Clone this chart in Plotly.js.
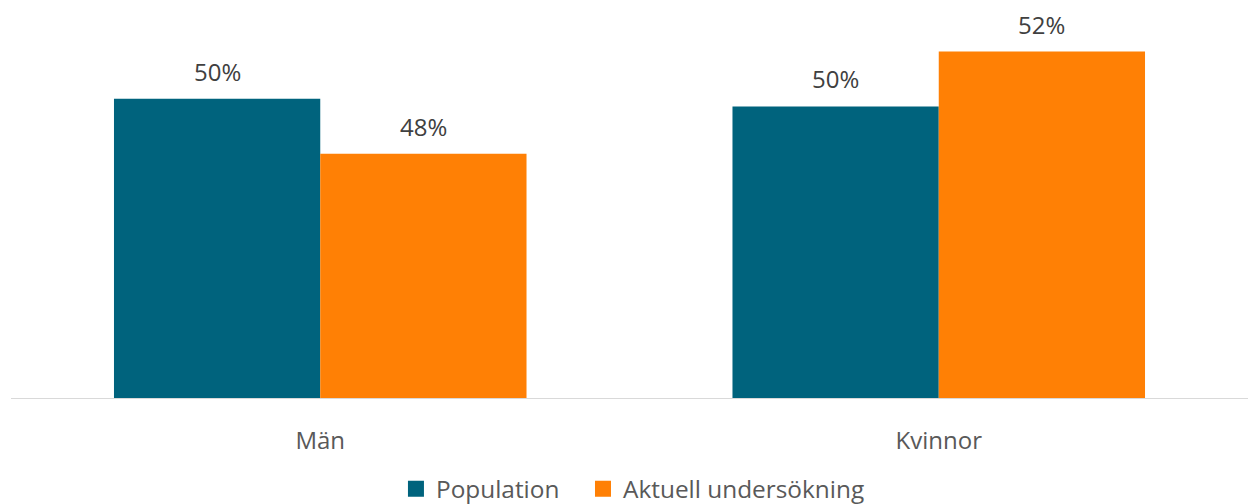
<!DOCTYPE html>
<html>
<head>
<meta charset="utf-8">
<script src="https://cdn.plot.ly/plotly-3.0.1.min.js"></script>
<style>html,body{margin:0;padding:0;background:#fff;}#chart{width:1248px;height:504px;}</style>
</head>
<body>
<div id="chart"></div>
<script>
const categories = ["Män", "Kvinnor"];
const seriesNames = ["Population", "Aktuell undersökning"];
const population = [50.13, 49.87];
const aktuell = [48.27, 51.73];
const colors = ["#00637d", "#ff8005"];

const font = "'Open Sans', 'Noto Sans', sans-serif";
const series = [population, aktuell];
const bargap = 0.333;
const barW = (1 - bargap) / series.length;
const legendIds = ["legend", "legend2"];

const traces = series.map((vals, i) => ({
  type: "bar",
  name: seriesNames[i],
  x: categories,
  y: vals,
  marker: {color: colors[i]},
  showlegend: false,
  hoverinfo: "skip"
}));
// legend entries with square markers
series.forEach((vals, i) => traces.push({
  type: "scatter", mode: "markers", name: seriesNames[i],
  x: [null], y: [null],
  marker: {symbol: "square", size: 16, color: colors[i], line: {width: 0}},
  showlegend: true, legend: legendIds[i], hoverinfo: "skip"
}));

const annotations = [];
series.forEach((vals, i) => vals.forEach((v, j) => annotations.push({
  xref: "x", yref: "y",
  x: j - (1 - bargap) / 2 + barW * (i + 0.5),
  y: v,
  text: Math.round(v) + "%",
  showarrow: false, yanchor: "bottom", yshift: 9,
  font: {family: font, size: 24, color: "#404040"}
})));

const legendBase = {
  orientation: "h", xref: "paper", xanchor: "left",
  yref: "container", y: 0.03, yanchor: "middle",
  font: {family: font, size: 24.4, color: "#595959"},
  itemwidth: 30
};

const layout = {
  width: 1248, height: 504,
  margin: {l: 11, r: 0, t: 14, b: 105.5},
  paper_bgcolor: "#fff", plot_bgcolor: "#fff",
  barmode: "group",
  bargap: bargap,
  bargroupgap: 0,
  font: {family: font, size: 24, color: "#595959"},
  xaxis: {
    type: "category",
    showline: true, linecolor: "#d9d9d9", linewidth: 1,
    ticks: "", ticklabelstandoff: 21,
    tickfont: {family: font, size: 24, color: "#595959"},
    showgrid: false, zeroline: false, fixedrange: true
  },
  yaxis: {
    range: [40, 53], visible: false, showgrid: false, zeroline: false, fixedrange: true
  },
  annotations: annotations,
  showlegend: true,
  legend: Object.assign({}, legendBase, {x: 0.3112}),
  legend2: Object.assign({}, legendBase, {x: 0.4624})
};

Plotly.newPlot("chart", traces, layout, {displayModeBar: false, staticPlot: true});
</script>
</body>
</html>
